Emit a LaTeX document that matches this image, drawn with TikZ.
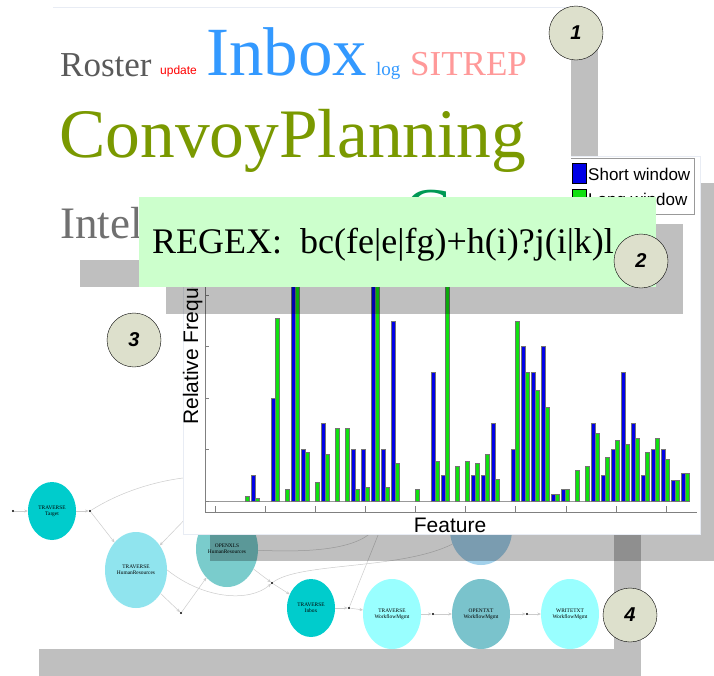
\documentclass[tikz,border=0pt]{standalone}
\usepackage{fontspec}
\setmainfont{Liberation Serif}
\setsansfont{Liberation Sans}
\usetikzlibrary{arrows.meta,shapes.geometric}
\definecolor{rostergray}{HTML}{5A5A5A}
\definecolor{inboxblue}{HTML}{3399FF}
\definecolor{sitrepred}{HTML}{FF9999}
\definecolor{convoygreen}{HTML}{7A9900}
\definecolor{intelgray}{HTML}{707070}
\definecolor{cloudgreen}{HTML}{009955}
\definecolor{regexgreen}{HTML}{CCFFCC}
\definecolor{badgefill}{HTML}{DDE0CC}
\definecolor{barblue}{HTML}{0000E6}
\definecolor{bargreen}{HTML}{10E010}
\definecolor{travcyan}{HTML}{00CCCC}
\definecolor{hrcyan}{HTML}{90E4EE}
\definecolor{xlsteal}{HTML}{7ACCCC}
\definecolor{wfcyan}{HTML}{99FFFF}
\definecolor{txtteal}{HTML}{7AC3CC}
\definecolor{hidblue}{HTML}{A3D1EB}
\definecolor{edgeline}{HTML}{E8ECF4}
\begin{document}
\begin{tikzpicture}[x=1pt,y=-1pt,
  shadow/.style={fill=black,fill opacity=0.25},
  word/.style={anchor=base west,inner sep=0pt},
  badge/.style={circle,draw=black,fill=badgefill,minimum size=54pt,inner sep=0pt,
    font=\sffamily\bfseries\itshape\fontsize{20}{20}\selectfont},
  task/.style={ellipse,inner sep=0pt,align=center,font=\fontsize{5.4}{6}\selectfont},
  joint/.style={circle,fill=black,inner sep=0pt,minimum size=2.4pt},
  flow/.style={draw=black!20,line width=0.5pt,-{Stealth[length=3.5pt,width=3pt,fill=black!30]}},
  bluebar/.style={fill=barblue,draw=black!55,line width=0.3pt},
  greenbar/.style={fill=bargreen,draw=black!55,line width=0.3pt}]
\useasboundingbox (0,0) rectangle (714,675);

% panel 4: task graph
\fill[shadow] (39,457) rectangle (641,676);
\fill[white] (12,430) rectangle (614,649);
\node[task,fill=travcyan,minimum width=48pt,minimum height=58pt] (tgt) at (52,511) {TRAVERSE\\Target};
\node[task,fill=hrcyan,minimum width=62pt,minimum height=76pt] (hrt) at (136,570) {TRAVERSE\\HumanResources};
\node[task,fill=xlsteal,minimum width=62pt,minimum height=76pt] (hrx) at (227,549) {OPENXLS\\HumanResources};
\node[task,fill=travcyan,minimum width=48pt,minimum height=58pt] (ibx) at (311,608) {TRAVERSE\\Inbox};
\node[task,fill=wfcyan,minimum width=58pt,minimum height=70pt] (wft) at (392,614) {TRAVERSE\\WorkflowMgmt};
\node[task,fill=txtteal,minimum width=58pt,minimum height=70pt] (wfo) at (481,614) {OPENTXT\\WorkflowMgmt};
\node[task,fill=wfcyan,minimum width=58pt,minimum height=70pt] (wfw) at (570,614) {WRITETXT\\WorkflowMgmt};
\node[task,fill=hidblue,minimum width=62pt,minimum height=70pt] (hid1) at (481,530) {};
\node[task,fill=travcyan,minimum width=40pt,minimum height=58pt] (hid2) at (390,505) {};
\node[joint] (j0) at (13,511) {};
\node[joint] (j1) at (90,511) {};
\node[joint] (j2) at (181,613) {};
\node[joint] (j3) at (272,583) {};
\node[joint] (j4) at (349,608) {};
\node[joint] (j5) at (433,614) {};
\node[joint] (j6) at (527,614) {};
\coordinate (c1) at (205,476);
\coordinate (c2) at (192,512);
\draw[flow] (j0) -- (tgt);
\draw[flow] (tgt) -- (j1);
\draw[flow] (j1) -- (hrt);
\draw[flow,-] (j1) .. controls (120,492) and (160,478) .. (c1);
\draw[flow] (c2) -- (hrt);
\draw[flow] (hrt) -- (j2);
\draw[flow] (j2) -- (hrx);
\draw[flow] (hrt.east) .. controls (205,600) and (250,602) .. (j3);
\draw[flow] (hrx) -- (j3);
\draw[flow] (j3) -- (ibx);
\draw[flow,-] (j3) .. controls (300,562) and (400,570) .. (hid1);
\draw[flow,-] (hrx) .. controls (300,552) and (360,552) .. (hid2);
\draw[flow] (ibx) -- (j4);
\draw[flow] (j4) -- (wft);
\draw[flow] (j4) -- (hid2);
\draw[flow] (wft) -- (j5);
\draw[flow] (j5) -- (wfo);
\draw[flow] (wfo) -- (j6);
\draw[flow] (j6) -- (wfw);

% panel 1 shadow, panel 3: bar chart
\fill[shadow] (80,34) rectangle (598,287);
\fill[shadow] (210,183) rectangle (727,561);
\draw[fill=white,draw=edgeline] (183,156) rectangle (700,534);
\draw[black!50] (205,160) -- (205,512) -- (697,512);
\draw[black!40] (205,501) -- (690,501);
\foreach \t in {0,...,6}
  \draw[black!50] (205,{501-51.5*\t}) -- ++(4,0);
\foreach \t in {0,...,9}
  \draw[black!50] ({215+50.1*\t},512) -- ++(0,-6);
\foreach \k/\h in {1/26,3/103,5/240,6/52,8/78,11/52,12/52,13/240,14/52,15/180,19/129,20/26,
    23/26,24/26,25/78,27/52,28/155,29/129,30/155,31/7,32/12,35/78,36/26,37/52,38/129,
    39/78,40/26,41/52,42/52,43/21,44/28}
  \draw[bluebar] ({241+10*\k},501) rectangle ++(4,-\h);
\foreach \k/\h in {0/5,1/3,3/183,4/12,5/240,6/49,7/19,8/47,9/73,10/73,11/12,12/14,13/240,
    14/14,15/38,17/12,19/40,20/240,21/35,22/40,23/38,24/47,25/22,27/180,28/129,29/111,
    30/94,31/7,32/12,33/31,34/35,35/68,36/44,37/61,38/57,39/63,40/49,41/63,42/42,43/21,44/28}
  \draw[greenbar] ({245+10*\k},501) rectangle ++(4,-\h);
\node[rotate=90,anchor=base west,inner sep=0pt,font=\sffamily\fontsize{21}{21}\selectfont] (ylab) at (198,425) {Relative Frequency};
\node[anchor=base,inner sep=0pt,font=\sffamily\fontsize{21}{21}\selectfont] (xlab) at (450,532) {Feature};
\draw[fill=white,draw=black!40] (550,158) rectangle (694,214);
\draw[fill=barblue,draw=black] (572,163) rectangle (586,183);
\draw[fill=bargreen,draw=black] (572,189) rectangle (586,209);
\node[anchor=west,inner sep=0pt,font=\sffamily\fontsize{17}{17}\selectfont] (short) at (588,174) {Short window};
\node[anchor=west,inner sep=0pt,font=\sffamily\fontsize{17}{17}\selectfont] (long) at (588,201) {Long window};

% panel 1: word cloud
\fill[white] (53,7) rectangle (571,260);
\draw[edgeline] (53,7) -- (571,7);
\node[word,text=rostergray,font=\fontsize{35}{35}\selectfont] (roster) at (60,76) {Roster};
\node[word,text=red,font=\sffamily\fontsize{12}{12}\selectfont] (update) at (160,74) {update};
\node[word,text=inboxblue,font=\fontsize{69}{69}\selectfont] (inbox) at (206,75) {Inbox};
\node[word,text=inboxblue,font=\fontsize{19}{19}\selectfont] (logw) at (376,75) {log};
\node[word,text=sitrepred,font=\fontsize{35}{35}\selectfont] (sitrep) at (410,75) {SITREP};
\node[word,text=convoygreen,font=\fontsize{69.5}{70}\selectfont] (convoy) at (59,157) {ConvoyPlanning};
\node[word,text=intelgray,font=\fontsize{45}{45}\selectfont] (intel) at (60,238) {Intel};
\node[word,text=cloudgreen,font=\fontsize{70}{70}\selectfont] (cword) at (404,236) {C};

% panel 2: regex
\fill[shadow] (166,224) rectangle (683,314);
\fill[regexgreen] (139,197) rectangle (656,287);
\node[word,font=\fontsize{36}{36}\selectfont] (regex) at (152,253) {REGEX:\ \ bc(fe|e|fg)+h(i)?j(i|k)l};

\node[badge] (b1) at (576,33) {1};
\node[badge] (b2) at (641,261) {2};
\node[badge] (b3) at (134,340) {3};
\node[badge] (b4) at (630,615) {4};
\end{tikzpicture}
\end{document}
